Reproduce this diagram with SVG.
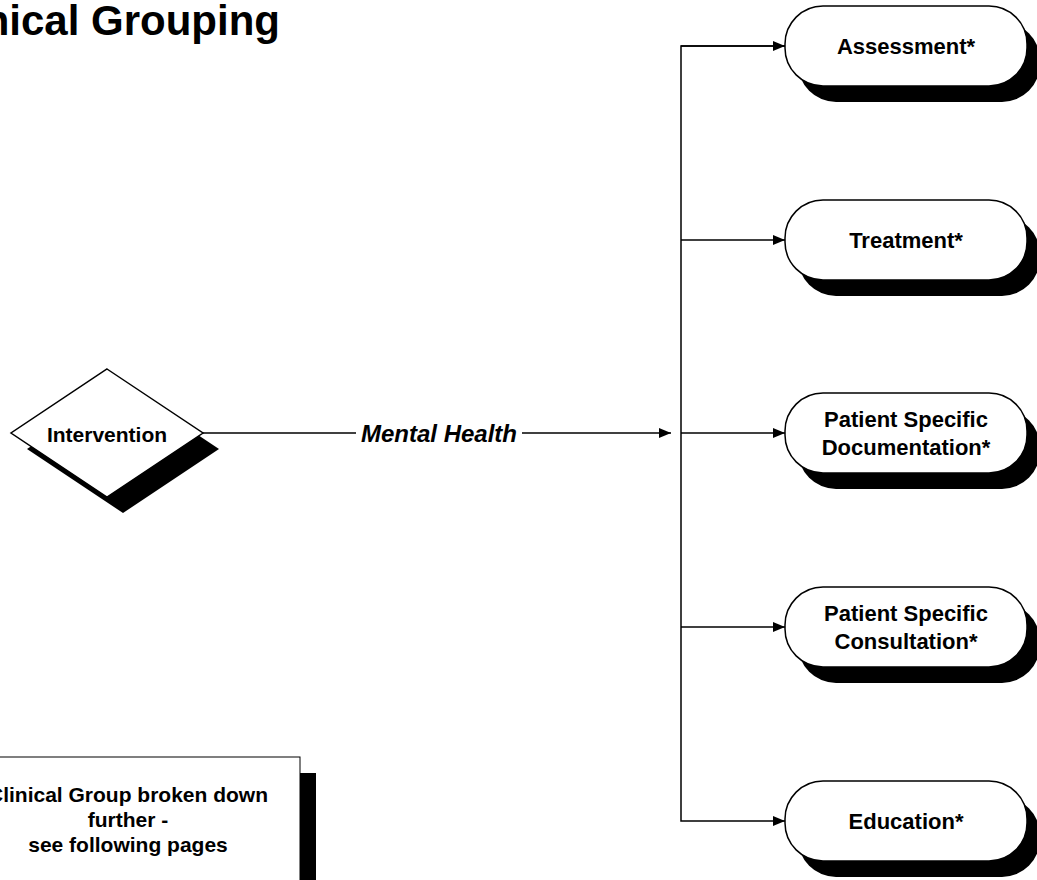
<svg xmlns="http://www.w3.org/2000/svg" width="1037" height="880" viewBox="0 0 1037 880">
<defs>
<style>
.t{font-family:"Liberation Sans",Arial,sans-serif;font-weight:bold;fill:#000;text-anchor:middle}
.box{fill:#fff;stroke:#000;stroke-width:1.5}
.sh{fill:#000}
.ln{fill:none;stroke:#000;stroke-width:1.5}
</style>
<marker id="ah" viewBox="0 0 12 10" refX="12" refY="5" markerWidth="12" markerHeight="10" markerUnits="userSpaceOnUse" orient="auto">
<path d="M0,0 L12,5 L0,10 Z" fill="#000"/>
</marker>
</defs>
<rect width="1037" height="880" fill="#fff"/>
<text class="t" x="280" y="35" style="font-size:42px;text-anchor:end">Clinical Grouping</text>

<g id="connectors">
<line class="ln" x1="203" y1="433" x2="671" y2="433" marker-end="url(#ah)"/>
<path class="ln" d="M785,46 H681 V821 H785" marker-end="url(#ah)"/>
<line class="ln" x1="681" y1="46" x2="785" y2="46" marker-end="url(#ah)"/>
<line class="ln" x1="681" y1="240" x2="785" y2="240" marker-end="url(#ah)"/>
<line class="ln" x1="681" y1="433" x2="785" y2="433" marker-end="url(#ah)"/>
<line class="ln" x1="681" y1="627" x2="785" y2="627" marker-end="url(#ah)"/>
<rect x="356" y="418" width="166" height="30" fill="#fff"/>
<text class="t" x="439" y="442" style="font-size:24px;font-style:italic">Mental Health</text>
</g>

<g id="intervention">
<polygon class="sh" points="123,385 219,449 123,513 27,449"/>
<polygon class="box" points="107,369 203,433 107,497 11,433"/>
<text class="t" x="107" y="442" style="font-size:21px">Intervention</text>
</g>

<g id="assessment">
<rect class="sh" x="798" y="22" width="242" height="80" rx="38"/>
<rect class="box" x="785" y="6" width="242" height="80" rx="38"/>
<text class="t" x="906" y="54" style="font-size:22px">Assessment*</text>
</g>

<g id="treatment">
<rect class="sh" x="798" y="216" width="242" height="80" rx="38"/>
<rect class="box" x="785" y="200" width="242" height="80" rx="38"/>
<text class="t" x="906" y="248" style="font-size:22px">Treatment*</text>
</g>

<g id="documentation">
<rect class="sh" x="798" y="409" width="242" height="80" rx="38"/>
<rect class="box" x="785" y="393" width="242" height="80" rx="38"/>
<text class="t" x="906" y="427" style="font-size:22px">Patient Specific</text>
<text class="t" x="906" y="455" style="font-size:22px">Documentation*</text>
</g>

<g id="consultation">
<rect class="sh" x="798" y="603" width="242" height="80" rx="38"/>
<rect class="box" x="785" y="587" width="242" height="80" rx="38"/>
<text class="t" x="906" y="621" style="font-size:22px">Patient Specific</text>
<text class="t" x="906" y="649" style="font-size:22px">Consultation*</text>
</g>

<g id="education">
<rect class="sh" x="798" y="797" width="242" height="80" rx="38"/>
<rect class="box" x="785" y="781" width="242" height="80" rx="38"/>
<text class="t" x="906" y="829" style="font-size:22px">Education*</text>
</g>

<g id="note">
<rect class="sh" x="0" y="773" width="316" height="120"/>
<rect x="-20" y="757" width="320" height="140" fill="#fff" stroke="#000" stroke-width="1"/>
<text class="t" x="128" y="802" style="font-size:21px">Clinical Group broken down</text>
<text class="t" x="128" y="827" style="font-size:21px">further -</text>
<text class="t" x="128" y="852" style="font-size:21px">see following pages</text>
</g>
</svg>
